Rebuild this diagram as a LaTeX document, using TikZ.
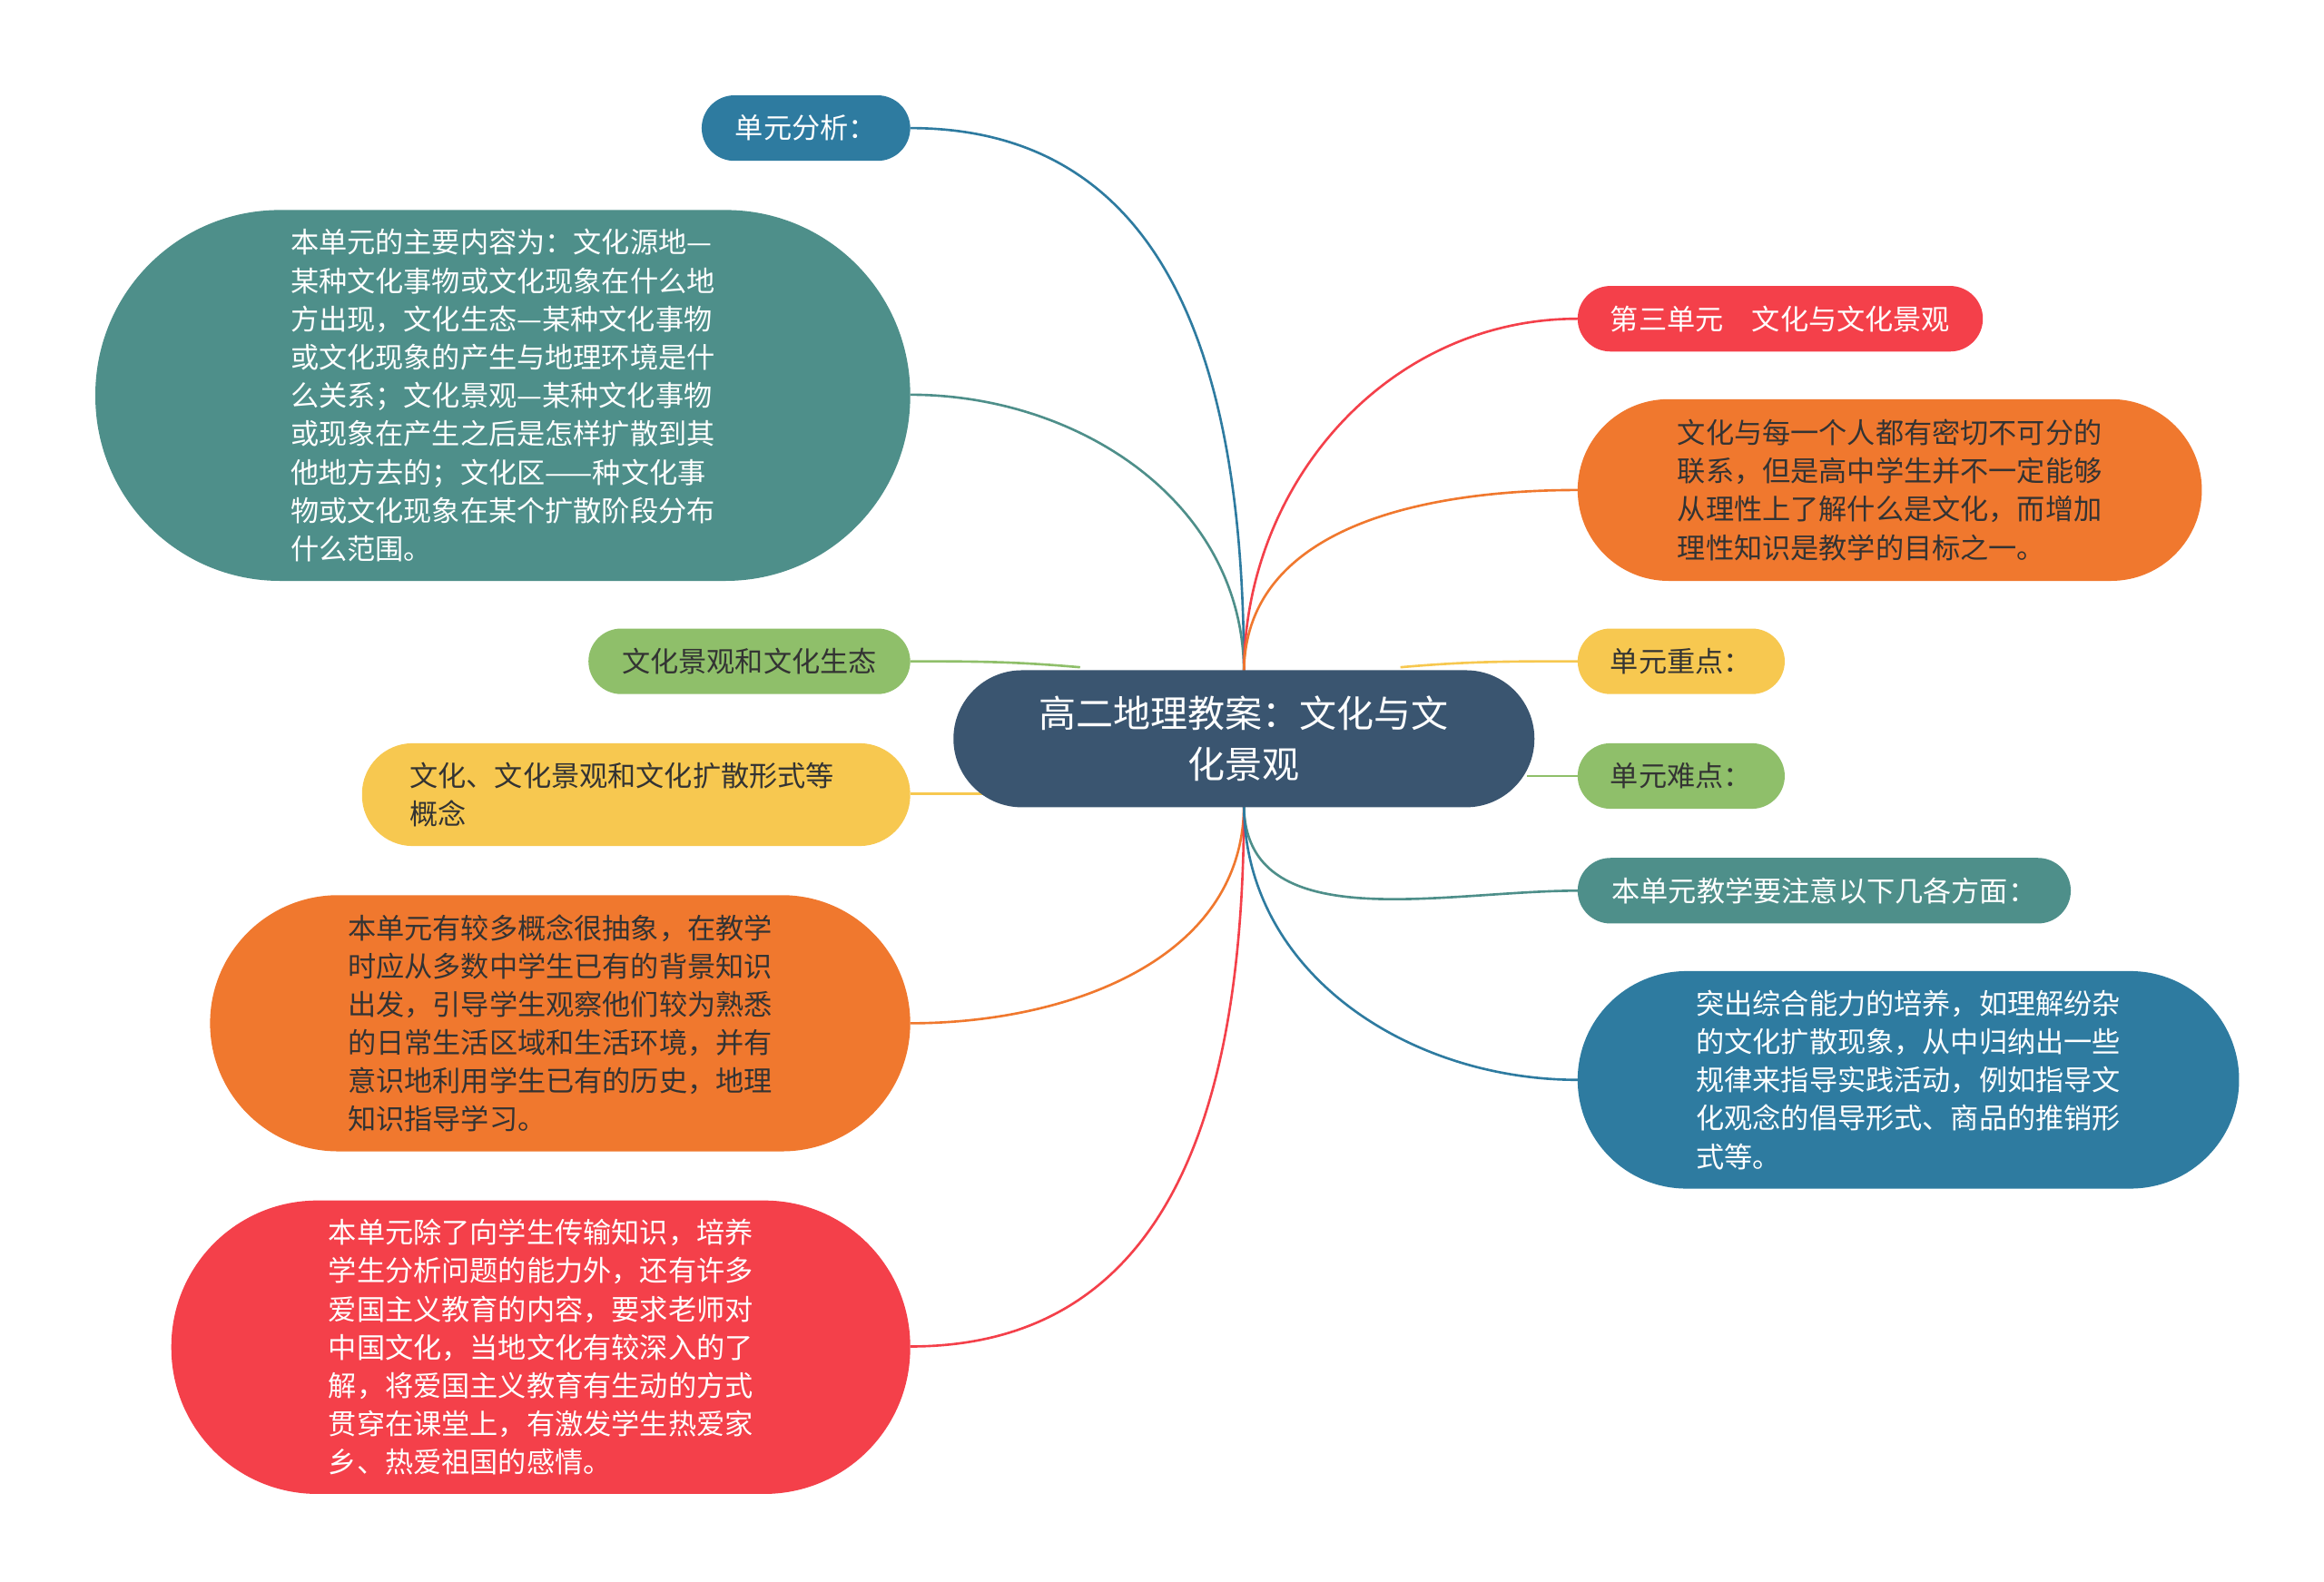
\documentclass[tikz,border=0pt]{standalone}
\usepackage{fontspec}
\setmainfont{Noto Sans CJK SC}
\begin{document}
\begin{tikzpicture}[x=1pt,y=1pt,
 box/.style={inner sep=0pt,align=left,font=\fontsize{19}{25.7}\selectfont},
 ln/.style={line width=1.6pt}]
\definecolor{cblue}{HTML}{2E7BA0}
\definecolor{cteal}{HTML}{4E8F8A}
\definecolor{cgreen}{HTML}{8FBF6A}
\definecolor{cyel}{HTML}{F7C850}
\definecolor{corg}{HTML}{F0782E}
\definecolor{cred}{HTML}{F4404A}
\definecolor{cdark}{HTML}{3A5570}
\definecolor{ctxt}{HTML}{333333}
\useasboundingbox (0,0) rectangle (1560,-1062);
\fill[white] (0,0) rectangle (1560,-1062);
% connectors
\coordinate (st) at (835,-452);
\coordinate (sb) at (835,-540);
\draw[ln,cblue] (st) to[out=90,in=0,looseness=1.1] (611,-86);
\draw[ln,cteal] (st) to[out=90,in=0] (611,-265);
\draw[ln,cgreen] (725,-448) to[out=175,in=0] (611,-444);
\draw[ln,cyel] (660,-533) to[out=180,in=0] (611,-533);
\draw[ln,corg] (sb) to[out=-90,in=0] (611,-687);
\draw[ln,cred] (sb) to[out=-90,in=0,looseness=1.1] (611,-904);
\draw[ln,cred] (st) to[out=90,in=180] (1059,-214);
\draw[ln,corg] (st) to[out=90,in=180] (1059,-329);
\draw[ln,cyel] (940,-448) to[out=5,in=180] (1059,-444);
\draw[ln,cgreen] (1025,-521) -- (1059,-521);
\draw[ln,cteal] (sb) to[out=-90,in=180] (1059,-598);
\draw[ln,cblue] (sb) to[out=-90,in=180] (1059,-725);
% nodes
\node[box,fill=cdark,text=white,minimum width=390,minimum height=92,rounded corners=46,align=center,font=\fontsize{25}{34}\selectfont] (c) at (835,-496) {高二地理教案：文化与文\\化景观};
\node[box,fill=cblue,text=white,minimum width=140,minimum height=44,rounded corners=22] (a) at (541,-86) {单元分析：};
\node[box,fill=cteal,text=white,minimum width=547,minimum height=249,rounded corners=124] (b) at (337.5,-265.5) {本单元的主要内容为：文化源地—\\某种文化事物或文化现象在什么地\\方出现，文化生态—某种文化事物\\或文化现象的产生与地理环境是什\\么关系；文化景观—某种文化事物\\或现象在产生之后是怎样扩散到其\\他地方去的；文化区——种文化事\\物或文化现象在某个扩散阶段分布\\什么范围。};
\node[box,fill=cgreen,text=ctxt,minimum width=216,minimum height=44,rounded corners=22] (cc) at (503,-444) {文化景观和文化生态};
\node[box,fill=cyel,text=ctxt,minimum width=368,minimum height=69,rounded corners=34] (d) at (427,-533.5) {文化、文化景观和文化扩散形式等\\概念\hspace*{266pt}};
\node[box,fill=corg,text=ctxt,minimum width=470,minimum height=172,rounded corners=86] (e) at (376,-687) {本单元有较多概念很抽象，在教学\\时应从多数中学生已有的背景知识\\出发，引导学生观察他们较为熟悉\\的日常生活区域和生活环境，并有\\意识地利用学生已有的历史，地理\\知识指导学习。};
\node[box,fill=cred,text=white,minimum width=496,minimum height=197,rounded corners=98] (f) at (363,-904.5) {本单元除了向学生传输知识，培养\\学生分析问题的能力外，还有许多\\爱国主义教育的内容，要求老师对\\中国文化，当地文化有较深入的了\\解，将爱国主义教育有生动的方式\\贯穿在课堂上，有激发学生热爱家\\乡、热爱祖国的感情。};
\node[box,fill=cred,text=white,minimum width=272,minimum height=44,rounded corners=22] (g) at (1195,-214) {第三单元　文化与文化景观};
\node[box,fill=corg,text=ctxt,minimum width=419,minimum height=122,rounded corners=61] (h) at (1268.5,-329) {文化与每一个人都有密切不可分的\\联系，但是高中学生并不一定能够\\从理性上了解什么是文化，而增加\\理性知识是教学的目标之一。};
\node[box,fill=cyel,text=ctxt,minimum width=139,minimum height=44,rounded corners=22] (i) at (1128.5,-444) {单元重点：};
\node[box,fill=cgreen,text=ctxt,minimum width=139,minimum height=44,rounded corners=22] (j) at (1128.5,-521) {单元难点：};
\node[box,fill=cteal,text=white,minimum width=331,minimum height=44,rounded corners=22] (k) at (1224.5,-598) {本单元教学要注意以下几各方面：};
\node[box,fill=cblue,text=white,minimum width=444,minimum height=146,rounded corners=73] (l) at (1281,-725) {突出综合能力的培养，如理解纷杂\\的文化扩散现象，从中归纳出一些\\规律来指导实践活动，例如指导文\\化观念的倡导形式、商品的推销形\\式等。};
\end{tikzpicture}
\end{document}
